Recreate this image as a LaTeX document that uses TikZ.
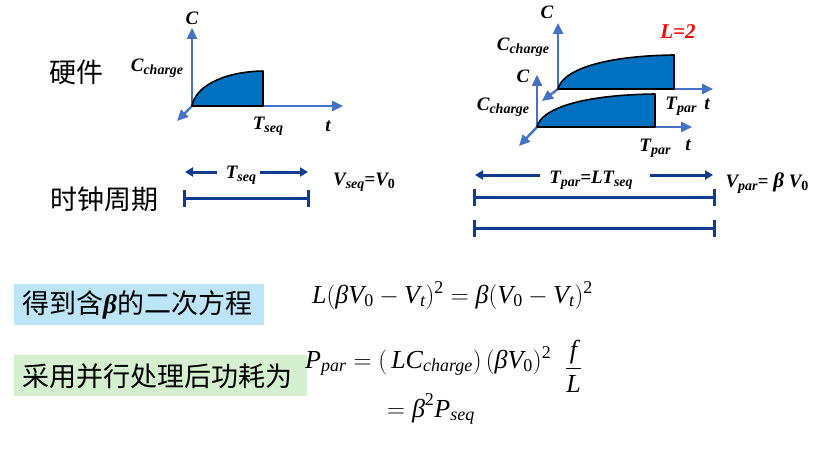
\documentclass[tikz,border=0pt]{standalone}
\usepackage{fontspec}
\usepackage{amsmath}
\setmainfont{Liberation Serif}
\newfontfamily\cjk{Noto Sans CJK SC}
\usetikzlibrary{arrows.meta}
\definecolor{axblue}{RGB}{68,114,196}
\definecolor{fillblue}{RGB}{0,112,192}
\definecolor{navy}{RGB}{16,60,145}
\definecolor{boxblue}{RGB}{189,229,248}
\definecolor{boxgreen}{RGB}{212,240,207}
\newcommand{\sbs}[1]{\raisebox{-0.35ex}{\fontsize{14}{14}\selectfont #1}}
\newcommand{\mi}[1]{\text{\itshape #1}}
\newcommand{\sm}[1]{\text{\fontsize{18}{18}\selectfont\itshape #1}}
\newcommand{\su}[1]{\text{\fontsize{18}{18}\selectfont #1}}
\begin{document}
\begin{tikzpicture}[x=1pt,y=-1pt,
  axis/.style={draw=axblue, line width=2.4pt, -{Triangle[length=11pt,width=10pt]}},
  wave/.style={fill=fillblue, draw=black, line width=1.6pt, line join=round},
  clk/.style={draw=navy, line width=3pt},
  clkarrow/.style={clk, -{Triangle[length=8pt,width=9pt]}},
  lab/.style={font=\fontsize{19}{21}\selectfont\bfseries\itshape, inner sep=0pt},
  cn/.style={font=\cjk\fontsize{27}{30}\selectfont, inner sep=0pt},
  eq/.style={font=\fontsize{26}{30}\selectfont, inner sep=0pt, anchor=base west}]
\useasboundingbox (0,0) rectangle (828,452);

% ---------- left chart ----------
\coordinate (o1) at (192,106);
\coordinate (c1) at (192,28);
\coordinate (x1) at (343,106);
\coordinate (d1) at (177,121);
\coordinate (e1) at (263,71);
\coordinate (f1) at (263,106);
\draw[axis] (o1) -- (c1);
\draw[axis] (o1) -- (x1);
\draw[axis] (o1) -- (d1);
\draw[wave] (o1) .. controls (195,88) and (220,72) .. (e1) -- (f1) -- cycle;
\node[lab] (lc) at (192,18) {C};
\node[lab] (lcc) at (157,68) {C\sbs{charge}};
\node[lab] (lts) at (268,126) {T\sbs{seq}};
\node[lab] (lt) at (328,126) {t};

\node[cn] (hw) at (76,72) {硬件};
\node[cn] (clkp) at (104,199) {时钟周期};

% left clock
\coordinate (la1) at (217,172);
\coordinate (la2) at (185,172);
\coordinate (la3) at (260,172);
\coordinate (la4) at (308,172);
\draw[clkarrow] (la1) -- (la2);
\draw[clkarrow] (la3) -- (la4);
\node[lab] (cts) at (241,175) {T\sbs{seq}};
\coordinate (lb1) at (184,198);
\coordinate (lb2) at (308,198);
\draw[clk] (lb1) -- (lb2);
\draw[clk] ([yshift=-8.5pt]lb1) -- ([yshift=8.5pt]lb1);
\draw[clk] ([yshift=-8.5pt]lb2) -- ([yshift=8.5pt]lb2);
\node[lab] (vs) at (364,182) {V\sbs{seq}=V\sbs{\upshape 0}};

% ---------- right chart, top ----------
\coordinate (o2) at (558,89);
\coordinate (c2) at (558,23);
\coordinate (x2) at (713,89);
\coordinate (d2) at (542,101);
\coordinate (e2) at (674,55);
\coordinate (f2) at (674,89);
\draw[axis] (o2) -- (c2);
\draw[axis] (o2) -- (x2);
\draw[axis] (o2) -- (d2);
\draw[wave] (o2) .. controls (562,71) and (600,56) .. (e2) -- (f2) -- cycle;
\node[lab] (rc1) at (547,12) {C};
\node[lab] (rcc1) at (523,47) {C\sbs{charge}};
\node[lab, text=red, font=\fontsize{21}{22}\selectfont\bfseries\itshape] (l2) at (678,32) {L=2};
\node[lab] (rtp1) at (681,106) {T\sbs{par}};
\node[lab] (rt1) at (707,104) {t};

% ---------- right chart, bottom ----------
\coordinate (o3) at (537,127);
\coordinate (c3) at (537,75);
\coordinate (x3) at (692,127);
\coordinate (d3) at (519,146);
\coordinate (e3) at (655,94);
\coordinate (f3) at (655,127);
\draw[axis] (o3) -- (c3);
\draw[axis] (o3) -- (x3);
\draw[axis] (o3) -- (d3);
\draw[wave] (o3) .. controls (541,109) and (580,95) .. (e3) -- (f3) -- cycle;
\node[lab] (rc2) at (523,76) {C};
\node[lab] (rcc2) at (503,107) {C\sbs{charge}};
\node[lab] (rtp2) at (655,148) {T\sbs{par}};
\node[lab] (rt2) at (688,145) {t};

% right clock
\coordinate (ra1) at (540,175);
\coordinate (ra2) at (475,175);
\coordinate (ra3) at (650,175);
\coordinate (ra4) at (713,175);
\draw[clkarrow] (ra1) -- (ra2);
\draw[clkarrow] (ra3) -- (ra4);
\node[lab] (ctp) at (591,180) {T\sbs{par}=LT\sbs{seq}};
\coordinate (rb1) at (474,197);
\coordinate (rb2) at (714,197);
\coordinate (rb3) at (474,228);
\coordinate (rb4) at (714,228);
\draw[clk] (rb1) -- (rb2);
\draw[clk] ([yshift=-8.5pt]rb1) -- ([yshift=8.5pt]rb1);
\draw[clk] ([yshift=-8.5pt]rb2) -- ([yshift=8.5pt]rb2);
\draw[clk] (rb3) -- (rb4);
\draw[clk] ([yshift=-8.5pt]rb3) -- ([yshift=8.5pt]rb3);
\draw[clk] ([yshift=-8.5pt]rb4) -- ([yshift=8.5pt]rb4);
\node[lab] (vp) at (767,183) {V\sbs{par}= {\fontsize{21}{21}\selectfont β} V\sbs{\upshape 0}};

% ---------- bottom ----------
\fill[boxblue] (14,284) rectangle (264,325);
\fill[boxgreen] (14,355) rectangle (307,396);
\node[cn, anchor=west] (q1) at (22,305) {得到含{\rmfamily\bfseries\itshape β}的二次方程};
\node[cn, anchor=west] (q2) at (22,376) {采用并行处理后功耗为};

\node[eq] (eq1) at (312,303) {$\mi{L}(\mi{β}\mi{V}_{\su{0}}-\mi{V}_{\sm{t}})^{\su{2}}=\mi{β}(\mi{V}_{\su{0}}-\mi{V}_{\sm{t}})^{\su{2}}$};
\node[eq] (eq2) at (305,368) {$\mi{P}_{\sm{par}}=(\,\mi{L}\mi{C}_{\sm{charge}})\,(\mi{β}\mi{V}_{\su{0}})^{\su{2}}\;\;\raisebox{-7pt}{$\dfrac{\mi{f}}{\mi{L}}$}$};
\node[eq] (eq3) at (387,417) {$=\mi{β}^{\su{2}}\mi{P}_{\sm{seq}}$};
\end{tikzpicture}
\end{document}
